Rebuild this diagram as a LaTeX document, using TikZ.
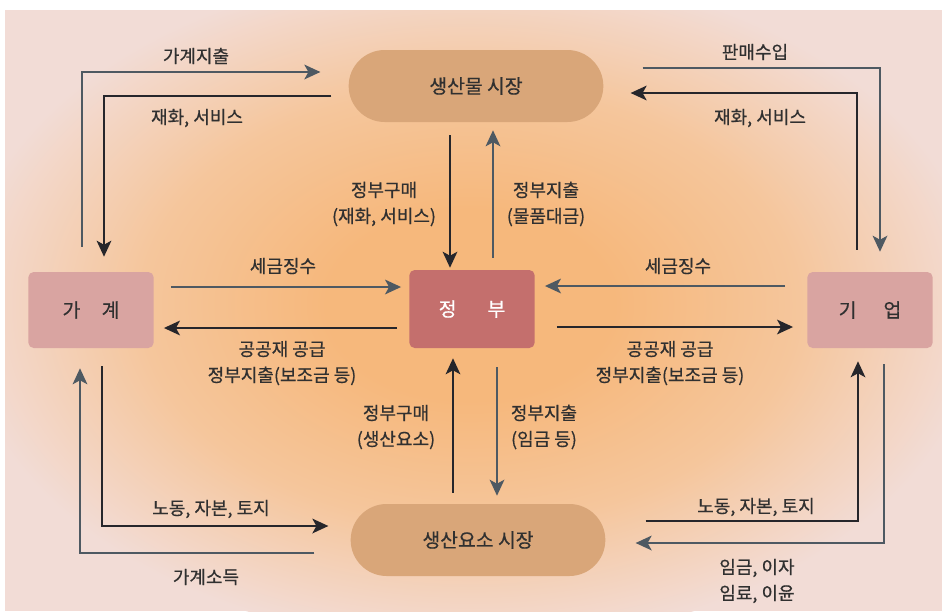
\documentclass[tikz,border=0pt]{standalone}
\usepackage{fontspec}
\setmainfont{Noto Sans CJK KR}
\newfontfamily\lblfont[FakeBold=0.5]{Noto Sans CJK KR}
\usetikzlibrary{arrows.meta,calc}
\definecolor{bgpink}{HTML}{F2DCD6}
\definecolor{glowc}{HTML}{F6B87C}
\definecolor{midc}{HTML}{F5C69C}
\definecolor{mktc}{HTML}{D9A679}
\definecolor{govc}{HTML}{C46F6D}
\definecolor{sidec}{HTML}{D9A4A1}
\definecolor{darkl}{HTML}{26262B}
\definecolor{slatel}{HTML}{4E5962}
\definecolor{txtc}{HTML}{303030}
\pgfdeclareradialshading{glowshade}{\pgfpoint{0bp}{0bp}}{color(0bp)=(glowc); color(7bp)=(glowc); color(16bp)=(midc); color(25bp)=(bgpink); color(50bp)=(bgpink)}
\tikzset{
  mkt/.style={fill=mktc, rounded corners=27pt, minimum width=191pt, minimum height=54pt, inner sep=0pt, text=txtc, font=\lblfont\fontsize{14.5pt}{16pt}\selectfont},
  govbox/.style={fill=govc, rounded corners=4pt, minimum width=94pt, minimum height=58.5pt, inner sep=0pt, text=white, font=\lblfont\fontsize{14.5pt}{16pt}\selectfont},
  sidebox/.style={fill=sidec, rounded corners=4pt, minimum width=94pt, minimum height=57pt, inner sep=0pt, text=txtc, font=\lblfont\fontsize{14.5pt}{16pt}\selectfont},
  lbl/.style={text=txtc, inner sep=0pt, align=center, font=\lblfont\fontsize{13.5pt}{19.5pt}\selectfont},
  dk/.style={draw=darkl, line width=1.6pt, -{Stealth[length=12pt,width=11pt,inset=3pt]}},
  sl/.style={draw=slatel, line width=1.6pt, -{Stealth[length=12pt,width=11pt,inset=3pt]}}
}
\begin{document}
\begin{tikzpicture}[x=0.75pt,y=-0.75pt]
\useasboundingbox (0,0) rectangle (942,611);
\fill[white] (0,0) rectangle (942,611);
\begin{scope}
\clip (5,10) rectangle (942,611);
\fill[bgpink] (5,10) rectangle (942,611);
\shade[shading=glowshade] (470,305) ellipse [x radius=385pt, y radius=255pt];
\end{scope}

\node[mkt] (pm) at (476,86) {생산물 시장};
\node[mkt] (fm) at (478,540) {생산요소 시장};
\node[govbox] (gov) at (472,309) {정\hspace{1.6em}부};
\node[sidebox] (hh) at (91,310) {가\hspace{1.1em}계};
\node[sidebox] (firm) at (870,310) {기\hspace{1.4em}업};

% top-left
\draw[sl] ($(hh.north)+(-9,-25)$) |- ($(pm.west)+(-28,-14)$);
\draw[dk] ($(pm.west)+(-17,10)$) -| ($(hh.north)+(13,-15)$);
% top-right
\draw[sl] ($(pm.east)+(39,-18)$) -| ($(firm.north)+(10,-20)$);
\draw[dk] ($(firm.north)+(-13,-22)$) |- ($(pm.east)+(27,7)$);
% middle horizontal
\draw[sl] ($(hh.east)+(17,-23)$) -- ($(gov.west)+(-8,-22)$);
\draw[dk] ($(gov.west)+(-12,19)$) -- ($(hh.east)+(10,18)$);
\draw[sl] ($(firm.west)+(-22,-24)$) -- ($(gov.east)+(10,-23)$);
\draw[dk] ($(gov.east)+(22,18)$) -- ($(firm.west)+(-14,17)$);
% middle vertical
\draw[dk] ($(pm.south)+(-26,13)$) -- ($(gov.north)+(-22,-2)$);
\draw[sl] ($(gov.north)+(21,-12)$) -- ($(pm.south)+(17,8)$);
\draw[dk] ($(fm.north)+(-25,-11)$) -- ($(gov.south)+(-19,10)$);
\draw[sl] ($(gov.south)+(25,19)$) -- ($(fm.north)+(19,-8)$);
% bottom-left
\draw[dk] ($(hh.south)+(11,18)$) |- ($(fm.west)+(-22,-14)$);
\draw[sl] ($(fm.west)+(-36,13)$) -| ($(hh.south)+(-11,20)$);
% bottom-right
\draw[dk] ($(fm.east)+(40,-19)$) -| ($(firm.south)+(-12,13)$);
\draw[sl] ($(firm.south)+(14,16)$) |- ($(fm.east)+(30,3)$);

% labels
\node[lbl] (l1) at (196,56) {가계지출};
\node[lbl] (l2) at (197,118) {재화, 서비스};
\node[lbl] (l3) at (755,52) {판매수입};
\node[lbl] (l4) at (760,118) {재화, 서비스};
\node[lbl] (l5) at (283,266) {세금징수};
\node[lbl] (l6) at (282,363) {공공재 공급\\정부지출(보조금 등)};
\node[lbl] (l7) at (678,266) {세금징수};
\node[lbl] (l8) at (670,363) {공공재 공급\\정부지출(보조금 등)};
\node[lbl] (l9) at (384,204) {정부구매\\(재화, 서비스)};
\node[lbl] (l10) at (546,204) {정부지출\\(물품대금)};
\node[lbl] (l11) at (396,427) {정부구매\\(생산요소)};
\node[lbl] (l12) at (544,427) {정부지출\\(임금 등)};
\node[lbl] (l13) at (211,509) {노동, 자본, 토지};
\node[lbl] (l14) at (206,577) {가계소득};
\node[lbl] (l15) at (756,507) {노동, 자본, 토지};
\node[lbl] (l16) at (757,581) {임금, 이자\\임료, 이윤};
\end{tikzpicture}
\end{document}
